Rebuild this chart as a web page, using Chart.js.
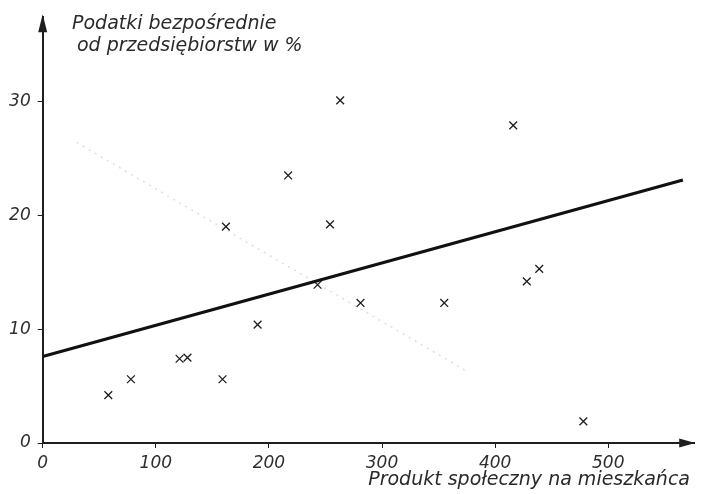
<!DOCTYPE html>
<html>
<head>
<meta charset="utf-8">
<script src="https://cdn.jsdelivr.net/npm/chart.js@4.4.1/dist/chart.umd.min.js"></script>
<style>
  html, body { margin: 0; padding: 0; background: #fff; }
  #wrap { width: 701px; height: 494px; }
</style>
</head>
<body>
<div id="wrap"><canvas id="myChart" width="701" height="494"></canvas></div>
<script>
// points
var produkt = [58, 78, 121, 128, 159, 162, 190, 217, 243, 254, 263, 281, 355, 416, 428, 439, 478];
var podatki = [4.2, 5.6, 7.4, 7.5, 5.6, 19.0, 10.4, 23.5, 13.9, 19.2, 30.1, 12.3, 12.3, 27.9, 14.2, 15.3, 1.9];

// regression line (end points)
var trendX = [0, 566];
var trendY = [7.6, 23.1];

// faint pencil line in the background
var draftX = [30, 375];
var draftY = [26.4, 6.3];

var xTicks = [0, 100, 200, 300, 400, 500];
var yTicks = [0, 10, 20, 30];

var yTitle = ['Podatki bezpośrednie', 'od przedsiębiorstw w %'];
var xTitle = 'Produkt społeczny na mieszkańca';

var ink = '#1e1e1e';

function toPts(xs, ys) {
    var out = [];
    for (var i = 0; i < xs.length; i++) out.push({x: xs[i], y: ys[i]});
    return out;
}

// arrows on the axes + the hand lettered titles
var axisExtras = {
    id: 'axisExtras',
    afterDraw: function(chart) {
        var c = chart.ctx;
        var a = chart.chartArea;
        c.save();
        c.fillStyle = ink;
        // y arrow
        c.beginPath();
        c.moveTo(a.left, a.top - 3);
        c.lineTo(a.left - 4.5, a.top + 15);
        c.lineTo(a.left + 4.5, a.top + 15);
        c.closePath();
        c.fill();
        // x arrow
        c.beginPath();
        c.moveTo(a.right + 1, a.bottom);
        c.lineTo(a.right - 15, a.bottom - 4.5);
        c.lineTo(a.right - 15, a.bottom + 4.5);
        c.closePath();
        c.fill();

        c.font = 'italic 19px "DejaVu Sans"';
        c.fillStyle = '#2a2a2a';
        c.textBaseline = 'alphabetic';
        c.textAlign = 'left';
        c.fillText(yTitle[0], 72, 29);
        c.fillText(yTitle[1], 77, 51);
        c.textAlign = 'right';
        c.fillText(xTitle, 690, 485);
        c.restore();
    }
};

var ctx = document.getElementById('myChart').getContext('2d');
var myChart = new Chart(ctx, {
    type: 'scatter',
    data: {
        datasets: [{
            label: 'draft',
            type: 'line',
            data: toPts(draftX, draftY),
            borderColor: 'rgba(0,0,0,0.13)',
            borderWidth: 1.5,
            borderDash: [2, 5],
            pointRadius: 0,
            fill: false
        }, {
            label: 'trend',
            type: 'line',
            data: toPts(trendX, trendY),
            borderColor: '#111',
            borderWidth: 3.2,
            pointRadius: 0,
            fill: false
        }, {
            label: 'kraje',
            data: toPts(produkt, podatki),
            pointStyle: 'crossRot',
            pointRadius: 5.5,
            pointBorderWidth: 1.3,
            borderColor: ink,
            backgroundColor: ink
        }]
    },
    options: {
        responsive: false,
        animation: false,
        layout: {
            padding: {left: 0, right: 1, top: 15, bottom: 0}
        },
        plugins: {
            legend: {display: false},
            tooltip: {enabled: false}
        },
        scales: {
            x: {
                type: 'linear',
                min: 0,
                max: 576,
                afterBuildTicks: function(s) { s.ticks = xTicks.map(function(v) { return {value: v}; }); },
                afterFit: function(s) { s.height = 51; },
                ticks: {
                    font: {family: 'DejaVu Sans', style: 'italic', size: 17},
                    color: '#2e2e2e',
                    padding: 5,
                    maxRotation: 0
                },
                grid: {drawOnChartArea: false, drawTicks: true, tickLength: 5, color: ink, lineWidth: 1},
                border: {color: ink, width: 2}
            },
            y: {
                type: 'linear',
                min: 0,
                max: 37.4,
                afterBuildTicks: function(s) { s.ticks = yTicks.map(function(v) { return {value: v}; }); },
                afterFit: function(s) { s.width = 42.7; },
                ticks: {
                    font: {family: 'DejaVu Sans', style: 'italic', size: 17},
                    color: '#2e2e2e',
                    padding: 7
                },
                grid: {drawOnChartArea: false, drawTicks: true, tickLength: 5, color: ink, lineWidth: 1},
                border: {color: ink, width: 2}
            }
        }
    },
    plugins: [axisExtras]
});
</script>
</body>
</html>
